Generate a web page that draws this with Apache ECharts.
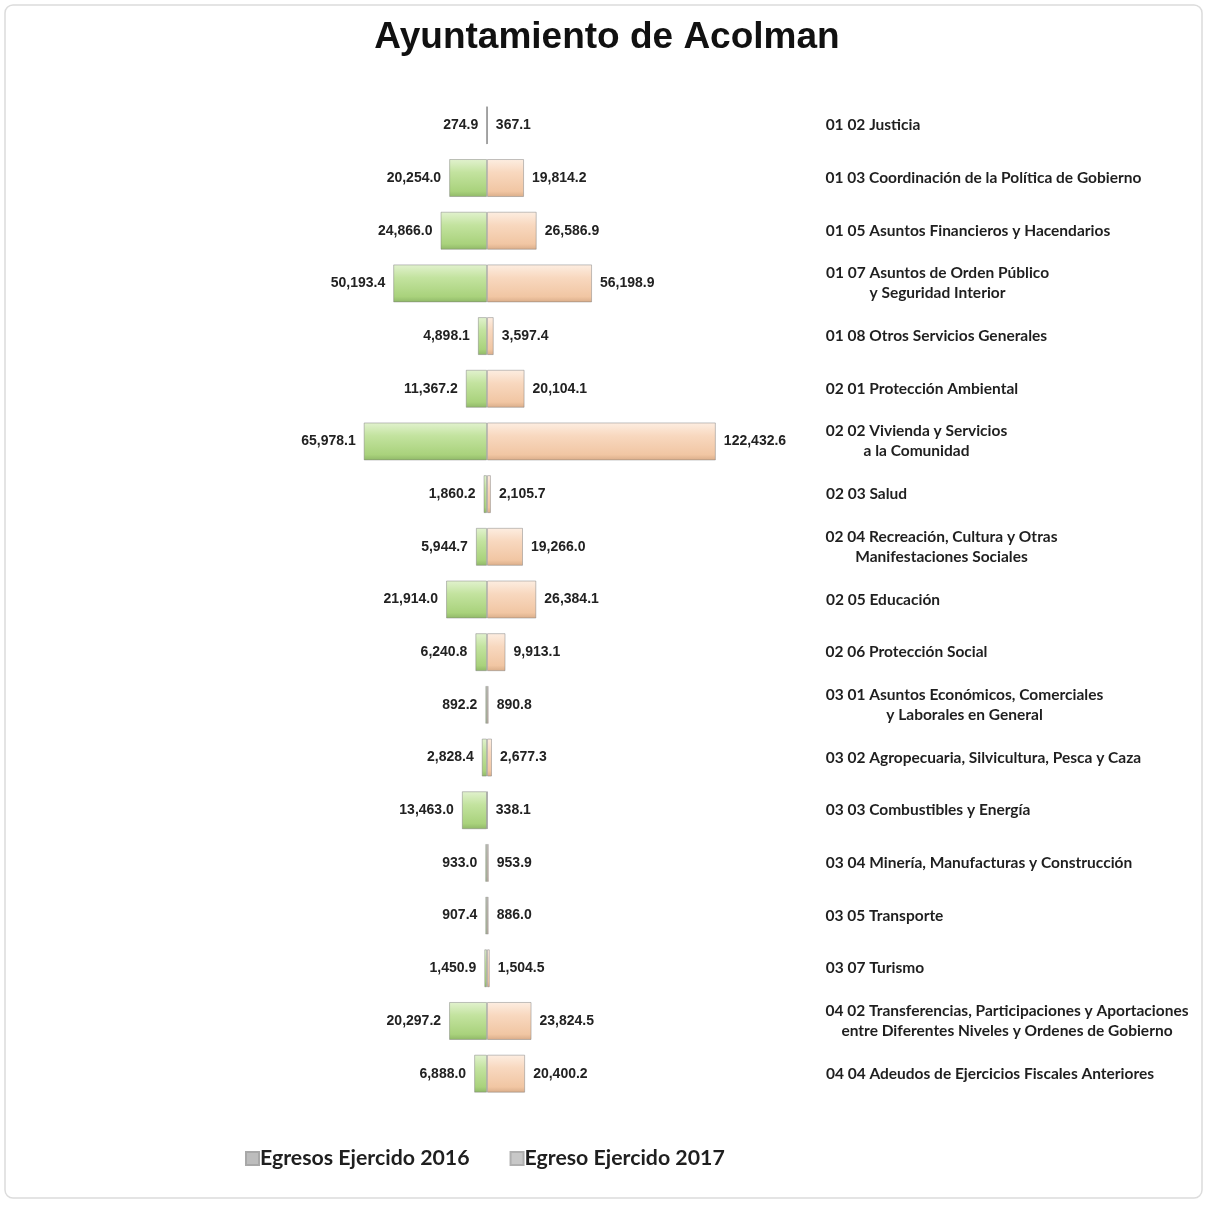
<!DOCTYPE html>
<html>
<head>
<meta charset="utf-8">
<script src="https://cdn.jsdelivr.net/npm/echarts@6/dist/echarts.min.js"></script>
<style>
  html, body { margin: 0; padding: 0; background: #fff; }
  #chart { width: 1207px; height: 1207px; }
</style>
</head>
<body>
<div id="chart"></div>
<script>
// 分类（右侧文字）
var categories = [
    '01 02 Justicia',
    '01 03 Coordinación de la Política de Gobierno',
    '01 05 Asuntos Financieros y Hacendarios',
    '01 07 Asuntos de Orden Público\ny Seguridad Interior',
    '01 08 Otros Servicios Generales',
    '02 01 Protección Ambiental',
    '02 02 Vivienda y Servicios\na la Comunidad',
    '02 03 Salud',
    '02 04 Recreación, Cultura y Otras\nManifestaciones Sociales',
    '02 05 Educación',
    '02 06 Protección Social',
    '03 01 Asuntos Económicos, Comerciales\ny Laborales en General',
    '03 02 Agropecuaria, Silvicultura, Pesca y Caza',
    '03 03 Combustibles y Energía',
    '03 04 Minería, Manufacturas y Construcción',
    '03 05 Transporte',
    '03 07 Turismo',
    '04 02 Transferencias, Participaciones y Aportaciones\nentre Diferentes Niveles y Ordenes de Gobierno',
    '04 04 Adeudos de Ejercicios Fiscales Anteriores'
];
// 2016 egresos
var egresos2016 = [274.9, 20254.0, 24866.0, 50193.4, 4898.1, 11367.2, 65978.1, 1860.2, 5944.7,
    21914.0, 6240.8, 892.2, 2828.4, 13463.0, 933.0, 907.4, 1450.9, 20297.2, 6888.0];
// 2017 egresos
var egresos2017 = [367.1, 19814.2, 26586.9, 56198.9, 3597.4, 20104.1, 122432.6, 2105.7, 19266.0,
    26384.1, 9913.1, 890.8, 2677.3, 338.1, 953.9, 886.0, 1504.5, 23824.5, 20400.2];
var seriesNames = ['Egresos Ejercido 2016', 'Egreso Ejercido 2017'];

(function() {
    var myChart = echarts.init(document.getElementById('chart'));

    var catSize = 15.5;
    // 量一下文字宽度，让多行标签的第二行居中
    var ctx = document.createElement('canvas').getContext('2d');
    ctx.font = 'bold ' + catSize + 'px Lato';
    var rich = {};
    categories.forEach(function(c, i) {
        var w = 0;
        c.split('\n').forEach(function(line) {
            w = Math.max(w, ctx.measureText(line).width);
        });
        rich['c' + i] = {
            width: Math.ceil(w) + 1,
            align: 'center',
            fontFamily: 'Lato',
            fontWeight: 'bold',
            fontSize: catSize,
            lineHeight: 20,
            color: '#1f1f1f'
        };
    });

    function fmt(v) {
        return Math.abs(v).toLocaleString('en-US', { minimumFractionDigits: 1, maximumFractionDigits: 1 });
    }

    var green = new echarts.graphic.LinearGradient(0, 0, 0, 1, [
        { offset: 0, color: '#e2f2cf' },
        { offset: 0.35, color: '#c3e39f' },
        { offset: 0.85, color: '#a9d27c' },
        { offset: 1, color: '#8fb767' }
    ]);
    var peach = new echarts.graphic.LinearGradient(0, 0, 0, 1, [
        { offset: 0, color: '#fdeee2' },
        { offset: 0.35, color: '#f8d8bf' },
        { offset: 0.85, color: '#f1c6a3' },
        { offset: 1, color: '#d9ac88' }
    ]);

    var valueLabel = {
        show: true,
        fontFamily: 'Liberation Sans',
        fontWeight: 'bold',
        fontSize: 14,
        color: '#222',
        distance: 8,
        formatter: function(p) { return fmt(p.value); }
    };

    var option = {
        backgroundColor: '#fff',
        animation: false,
        title: {
            text: 'Ayuntamiento de Acolman',
            left: 602,
            textAlign: 'center',
            top: 14,
            textStyle: {
                fontFamily: 'Liberation Sans',
                fontWeight: 'bold',
                fontSize: 37,
                color: '#111'
            }
        },
        graphic: [{
            type: 'rect',
            shape: { x: 5, y: 5, width: 1197, height: 1193, r: 8 },
            style: { fill: 'none', stroke: '#dcdcdc', lineWidth: 1.5 },
            silent: true,
            z: -10
        }],
        legend: {
            bottom: 33,
            left: 240,
            itemGap: 40,
            itemWidth: 13,
            itemHeight: 13,
            icon: 'rect',
            textStyle: {
                fontFamily: 'Lato',
                fontWeight: 'bold',
                fontSize: 21.3,
                color: '#1f1f1f',
                padding: [0, 0, 0, -4]
            },
            data: [
                { name: seriesNames[0], itemStyle: { color: '#bdbdbd', borderColor: '#a8a8a8' } },
                { name: seriesNames[1], itemStyle: { color: '#c8c8c8', borderColor: '#b0b0b0' } }
            ]
        },
        grid: {
            top: 99,
            bottom: 107,
            left: 244,
            right: 477
        },
        xAxis: {
            type: 'value',
            min: -130000,
            max: 130000,
            show: false
        },
        yAxis: {
            type: 'category',
            inverse: true,
            position: 'right',
            data: categories,
            axisLine: { show: false },
            axisTick: { show: false },
            splitLine: { show: false },
            axisLabel: {
                margin: 95,
                align: 'left',
                formatter: function(val, idx) {
                    return val.split('\n').map(function(l) {
                        return '{c' + idx + '|' + l + '}';
                    }).join('\n');
                },
                rich: rich
            }
        },
        series: [{
            name: seriesNames[0],
            type: 'bar',
            barWidth: 38,
            barGap: '-100%',
            data: egresos2016.map(function(v) { return -v; }),
            itemStyle: {
                color: green,
                borderColor: 'rgba(120,120,120,0.45)',
                borderWidth: 1
            },
            label: Object.assign({ position: 'left' }, valueLabel)
        }, {
            name: seriesNames[1],
            type: 'bar',
            barWidth: 38,
            data: egresos2017,
            itemStyle: {
                color: peach,
                borderColor: 'rgba(120,120,120,0.45)',
                borderWidth: 1
            },
            label: Object.assign({ position: 'right' }, valueLabel)
        }]
    };

    myChart.setOption(option);
    window.addEventListener('resize', function() {
        myChart.resize();
    });
})();
</script>
</body>
</html>
